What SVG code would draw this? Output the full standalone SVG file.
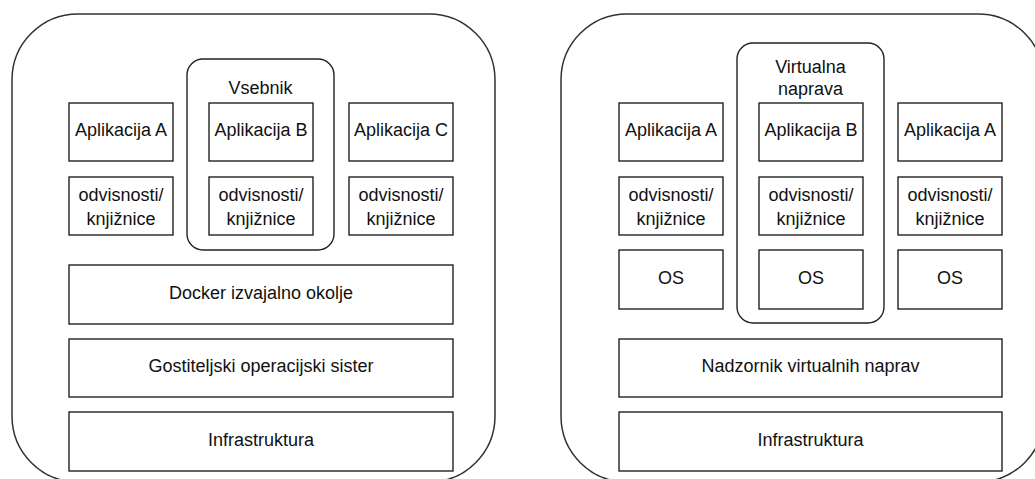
<svg xmlns="http://www.w3.org/2000/svg" width="1035" height="479" viewBox="0 0 1035 479">
<style>
.outer{fill:#fff;stroke:#333;stroke-width:1.5}
.cont{fill:#fff;stroke:#222;stroke-width:1.4}
.box{fill:#fff;stroke:#111;stroke-width:1.3}
text{font-family:"Liberation Sans",Arial,sans-serif;font-size:18px;fill:#111;text-anchor:middle}
</style>
<rect width="1035" height="479" fill="#fff"/>
<g id="docker-host"><rect class="outer" x="12" y="14" width="483" height="468" rx="66" ry="66"/></g>
<g id="vm-host"><rect class="outer" x="561" y="14" width="483" height="468" rx="66" ry="66"/></g>

<g id="vsebnik"><rect class="cont" x="187" y="59" width="147" height="191" rx="16" ry="16"/><text x="260.5" y="94">Vsebnik</text></g>
<g id="virtualna-naprava"><rect class="cont" x="737" y="43" width="147" height="280" rx="16" ry="16"/><text x="810.5" y="72.5">Virtualna</text><text x="810.5" y="95">naprava</text></g>

<g id="l-app-a"><rect class="box" x="69" y="103" width="104" height="58"/><text x="121" y="136">Aplikacija A</text></g>
<g id="l-app-b"><rect class="box" x="209" y="103" width="104" height="58"/><text x="261" y="136">Aplikacija B</text></g>
<g id="l-app-c"><rect class="box" x="349" y="103" width="104" height="58"/><text x="401" y="136">Aplikacija C</text></g>
<g id="l-dep-a"><rect class="box" x="69" y="177" width="104" height="58"/><text x="121" y="201">odvisnosti/</text><text x="121" y="224.5">knjižnice</text></g>
<g id="l-dep-b"><rect class="box" x="209" y="177" width="104" height="58"/><text x="261" y="201">odvisnosti/</text><text x="261" y="224.5">knjižnice</text></g>
<g id="l-dep-c"><rect class="box" x="349" y="177" width="104" height="58"/><text x="401" y="201">odvisnosti/</text><text x="401" y="224.5">knjižnice</text></g>
<g id="docker-runtime"><rect class="box" x="69" y="265" width="384" height="59"/><text x="261" y="298.5">Docker izvajalno okolje</text></g>
<g id="host-os"><rect class="box" x="69" y="339" width="384" height="58"/><text x="261" y="372">Gostiteljski operacijski sister</text></g>
<g id="l-infra"><rect class="box" x="69" y="412" width="384" height="59"/><text x="261" y="445.5">Infrastruktura</text></g>

<g id="r-app-a"><rect class="box" x="619" y="103" width="104" height="58"/><text x="671" y="136">Aplikacija A</text></g>
<g id="r-app-b"><rect class="box" x="759" y="103" width="104" height="58"/><text x="811" y="136">Aplikacija B</text></g>
<g id="r-app-a2"><rect class="box" x="898" y="103" width="104" height="58"/><text x="950" y="136">Aplikacija A</text></g>
<g id="r-dep-a"><rect class="box" x="619" y="177" width="104" height="58"/><text x="671" y="201">odvisnosti/</text><text x="671" y="224.5">knjižnice</text></g>
<g id="r-dep-b"><rect class="box" x="759" y="177" width="104" height="58"/><text x="811" y="201">odvisnosti/</text><text x="811" y="224.5">knjižnice</text></g>
<g id="r-dep-a2"><rect class="box" x="898" y="177" width="104" height="58"/><text x="950" y="201">odvisnosti/</text><text x="950" y="224.5">knjižnice</text></g>
<g id="r-os-a"><rect class="box" x="619" y="250" width="104" height="59"/><text x="671" y="283.5">OS</text></g>
<g id="r-os-b"><rect class="box" x="759" y="250" width="104" height="59"/><text x="811" y="283.5">OS</text></g>
<g id="r-os-a2"><rect class="box" x="898" y="250" width="104" height="59"/><text x="950" y="283.5">OS</text></g>
<g id="hypervisor"><rect class="box" x="619" y="339" width="383" height="58"/><text x="810.5" y="372">Nadzornik virtualnih naprav</text></g>
<g id="r-infra"><rect class="box" x="619" y="412" width="383" height="59"/><text x="810.5" y="445.5">Infrastruktura</text></g>

<g id="connectors"/>
</svg>
